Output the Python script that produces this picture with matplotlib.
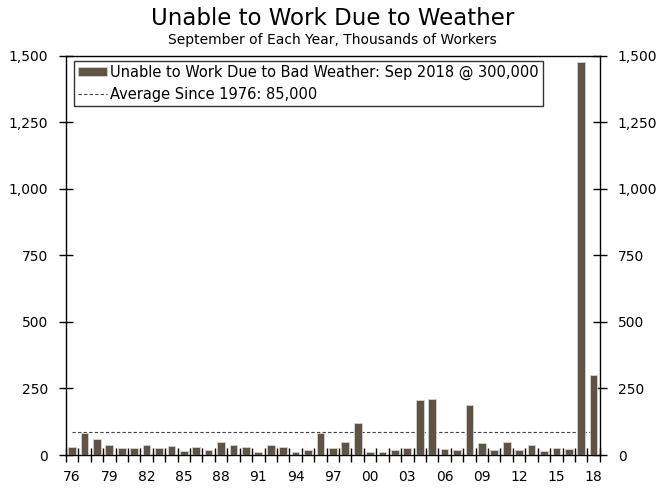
"""
Unable to Work Due to Weather
September of each year, thousands of workers
"""

import numpy as np
import matplotlib
matplotlib.use("Agg")
import matplotlib.pyplot as plt
from matplotlib.ticker import FuncFormatter

# ==========================================
# Data
# ==========================================

years = list(range(1976, 2019))

workers = [
    29, 82, 62, 36, 25, 25, 36, 25, 34, 16,
    30, 20, 48, 36, 30, 10, 36, 30, 13, 18,
    83, 25, 49, 121, 13, 13, 18, 28, 206, 211,
    23, 18, 188, 44, 18, 49, 18, 36, 14, 26,
    23, 1475, 300
]

average = 85

year_labels = ["76", "79", "82", "85", "88", "91", "94", "97",
               "00", "03", "06", "09", "12", "15", "18"]

bar_label = "Unable to Work Due to Bad Weather: Sep 2018 @ 300,000"
avg_label = "Average Since 1976: 85,000"

# ==========================================
# Figure
# ==========================================

plt.rcParams["font.family"] = ["DejaVu Sans"]

fig = plt.figure(figsize=(6.65, 4.88), dpi=100)
ax = fig.add_axes([0.099, 0.0676, 0.803, 0.818])

bars = ax.bar(
    years,
    workers,
    width=0.62,
    color="#5e5345",
    edgecolor="#dcd9d5",
    linewidth=0.5,
    label=bar_label,
    zorder=3
)

avg_line = ax.hlines(
    average,
    years[0],
    years[-1],
    colors="#444444",
    linestyles=(0, (3, 2)),
    linewidth=0.8,
    label=avg_label,
    zorder=2
)

# ==========================================
# Axes
# ==========================================

ax.set_xlim(1975.5, 2018.5)
ax.set_ylim(0, 1500)

ax.set_xticks([int(("19" if int(s) > 50 else "20") + s) for s in year_labels])
ax.set_xticklabels(year_labels)
ax.set_xticks(np.arange(1975.5, 2019, 1), minor=True)
ax.tick_params(axis="x", which="major", length=0, pad=11, labelsize=10)
ax.tick_params(axis="x", which="minor", direction="inout", length=10, width=1)

ax.set_yticks(range(0, 1501, 250))
ax.yaxis.set_major_formatter(FuncFormatter(lambda v, p: f"{int(v):,}"))
ax.tick_params(axis="y", direction="inout", length=10, width=1,
               labelsize=10, right=True, labelright=True, pad=8)

for s in ax.spines.values():
    s.set_linewidth(1)
    s.set_color("black")

# ==========================================
# Text
# ==========================================

fig.text(0.5, 0.962, "Unable to Work Due to Weather",
         ha="center", va="center", fontsize=16.5)
fig.text(0.5, 0.918, "September of Each Year, Thousands of Workers",
         ha="center", va="center", fontsize=10)

leg = ax.legend(
    [bars, avg_line],
    [bar_label, avg_label],
    loc="upper left",
    bbox_to_anchor=(0.015, 0.988),
    fontsize=10.5,
    frameon=True,
    fancybox=False,
    edgecolor="black",
    handlelength=2.0,
    handleheight=0.6,
    handletextpad=0.2,
    borderpad=0.3,
    labelspacing=0.45,
    borderaxespad=0
)
leg.get_frame().set_linewidth(1)

fig.savefig("out.png", dpi=100)
